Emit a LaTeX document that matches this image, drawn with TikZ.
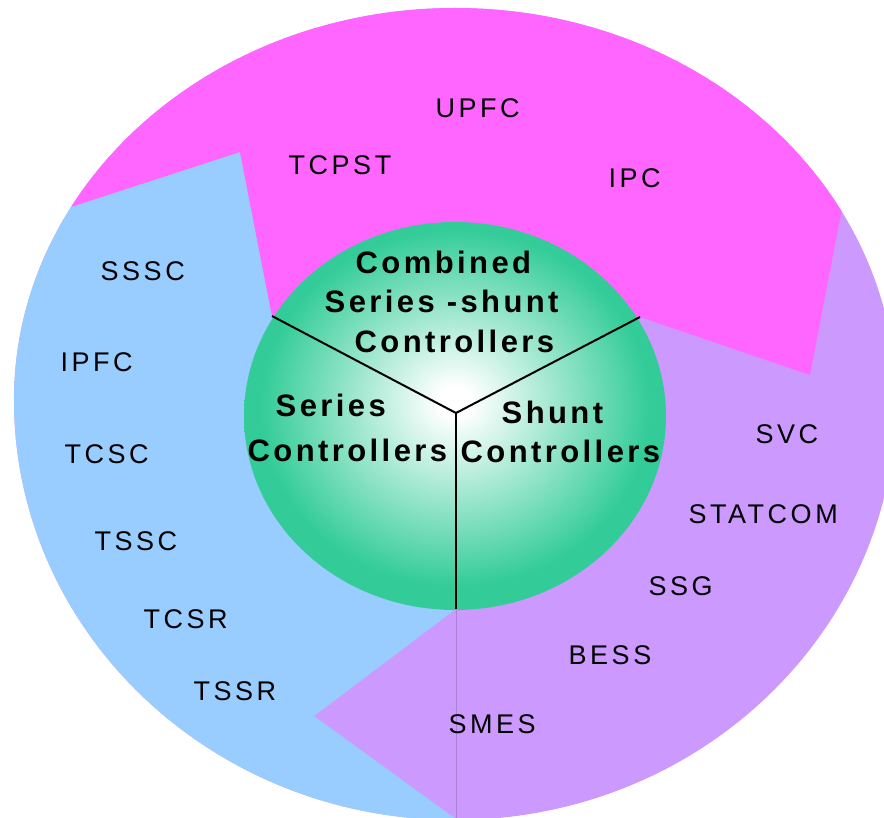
\documentclass[tikz,border=0pt]{standalone}
\usepackage{fontspec}
\setmainfont{Liberation Sans}
\newfontfamily\ringfont[LetterSpace=13]{Liberation Sans}
\newfontfamily\corefont[LetterSpace=11]{Liberation Sans}
\definecolor{pinkc}{RGB}{255,102,255}
\definecolor{bluec}{RGB}{153,204,255}
\definecolor{purplec}{RGB}{204,153,255}
\definecolor{greenc}{RGB}{51,204,153}
\definecolor{seamc}{RGB}{170,130,215}
\pgfdeclareradialshading{greenball}{\pgfpoint{0bp}{2bp}}{color(0bp)=(white); color(2bp)=(white); color(23bp)=(greenc); color(50bp)=(greenc)}
\begin{document}
\begin{tikzpicture}[x=1pt,y=-1pt,
  ring/.style={font=\ringfont\fontsize{27}{32}\selectfont, anchor=base west, inner sep=0pt},
  core/.style={font=\corefont\bfseries\fontsize{31}{36}\selectfont, anchor=base west, inner sep=0pt},
  divider/.style={line width=2pt, black},
  seam/.style={line width=0.6pt, seamc}]
\useasboundingbox (0,0) rectangle (884,818);
\coordinate (hub) at (456,413);
\coordinate (jl) at (272,316);
\coordinate (jr) at (640,317);
\coordinate (jb) at (456,609);
\coordinate (rimb) at (456,820);
\begin{scope}
  \clip (14,400) arc[start angle=180,end angle=360,x radius=441,y radius=392]
                 arc[start angle=0,end angle=180,x radius=441,y radius=420] -- cycle;
  \fill[purplec] (0,0) rectangle (900,900);
  \fill[bluec] (0,230) -- (240,152) -- (272,316) -- (456,413) -- (456,609) -- (314,716) -- (500,851) -- (0,900) -- cycle;
  \fill[pinkc] (0,0) -- (0,230) -- (240,152) -- (272,316) -- (456,413) -- (640,317) -- (810,375) -- (882,0) -- cycle;
\end{scope}
\shade[shading=greenball] (455,416) ellipse [x radius=211, y radius=194];
\draw[seam] (jb) -- (rimb);
\draw[divider] (hub) -- (jl);
\draw[divider] (hub) -- (jr);
\draw[divider] (hub) -- (jb);
% outer ring labels
\node[ring] (upfc) at (435.5,118) {UPFC};
\node[ring] (tcpst) at (288.5,175) {TCPST};
\node[ring] (ipc) at (608.5,188) {IPC};
\node[ring] (sssc) at (100.5,281) {SSSC};
\node[ring] (ipfc) at (60.5,372) {IPFC};
\node[ring] (tcsc) at (64.5,463) {TCSC};
\node[ring] (tssc) at (94.5,550) {TSSC};
\node[ring] (tcsr) at (143.5,628) {TCSR};
\node[ring] (tssr) at (193.5,700) {TSSR};
\node[ring] (svc) at (755.5,443) {SVC};
\node[ring] (statcom) at (688.5,523) {STATCOM};
\node[ring] (ssg) at (648.5,595) {SSG};
\node[ring] (bess) at (568.5,664) {BESS};
\node[ring] (smes) at (448.5,733) {SMES};
% core labels
\node[core] (comb1) at (355.5,274) {Combined};
\node[core] (comb2) at (324.5,313) {Series -shunt};
\node[core] (comb3) at (354.5,353) {Controllers};
\node[core] (ser1) at (275.5,417) {Series};
\node[core] (ser2) at (247.5,461) {Controllers};
\node[core] (shu1) at (501.5,423) {Shunt};
\node[core] (shu2) at (460.5,462) {Controllers};
\end{tikzpicture}
\end{document}
